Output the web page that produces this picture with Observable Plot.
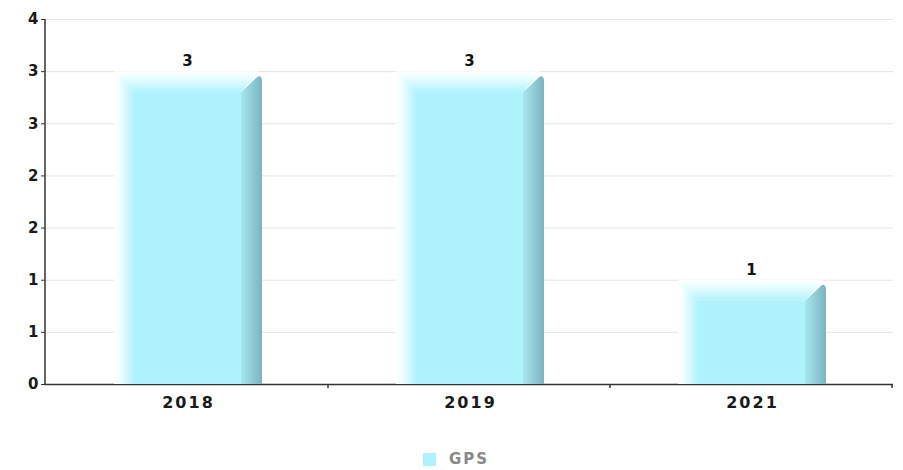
<!DOCTYPE html>
<html>
<head>
<meta charset="utf-8">
<script src="https://cdn.jsdelivr.net/npm/d3@7"></script>
<script src="https://cdn.jsdelivr.net/npm/@observablehq/plot@0.6"></script>
<style>
  html, body { margin: 0; padding: 0; background: #fff; }
  #wrap { position: relative; width: 903px; height: 470px; font-family: "DejaVu Sans", sans-serif; }
  #legend { position: absolute; left: 423px; top: 450px; display: flex; align-items: center; }
  #legend .sw { width: 13px; height: 13px; background: #aef2fb; margin-right: 13px; }
  #legend .lb { font-weight: bold; font-size: 15px; color: #888; letter-spacing: 2px; }
</style>
</head>
<body>
<div id="wrap"></div>
<script>
const years = ["2018", "2019", "2021"];
const values = [3, 3, 1];
const yTicks = [0, 0.5, 1, 1.5, 2, 2.5, 3, 3.5];
const seriesName = "GPS";

const data = years.map((year, i) => ({year, value: values[i]}));

const FRONT = "#aef2fb";

function bevelBars(index, scales, vals, dimensions, context, next) {
  const g = next(index, scales, vals, dimensions, context);
  const doc = context.document;
  const ns = "http://www.w3.org/2000/svg";
  const mk = (tag, attrs) => {
    const el = doc.createElementNS(ns, tag);
    for (const k in attrs) el.setAttribute(k, attrs[k]);
    return el;
  };
  const defs = mk("defs", {});
  const gl = mk("linearGradient", {id: "gL", x1: "0", y1: "0", x2: "1", y2: "0"});
  gl.appendChild(mk("stop", {offset: "0", "stop-color": "#ffffff"}));
  gl.appendChild(mk("stop", {offset: "0.25", "stop-color": "#f2feff"}));
  gl.appendChild(mk("stop", {offset: "1", "stop-color": FRONT}));
  const gt = mk("linearGradient", {id: "gT", x1: "0", y1: "0", x2: "0", y2: "1"});
  gt.appendChild(mk("stop", {offset: "0", "stop-color": "#ffffff"}));
  gt.appendChild(mk("stop", {offset: "0.25", "stop-color": "#effeff"}));
  gt.appendChild(mk("stop", {offset: "1", "stop-color": "#b2f3fc"}));
  const gr = mk("linearGradient", {id: "gR", x1: "0", y1: "0", x2: "1", y2: "0"});
  gr.appendChild(mk("stop", {offset: "0", "stop-color": "#a8e6ef"}));
  gr.appendChild(mk("stop", {offset: "1", "stop-color": "#79b4bf"}));
  defs.appendChild(gl); defs.appendChild(gt); defs.appendChild(gr);
  g.insertBefore(defs, g.firstChild);
  const rects = Array.from(g.querySelectorAll("rect"));
  for (const r of rects) {
    const x = +r.getAttribute("x"), y = +r.getAttribute("y");
    const w = +r.getAttribute("width"), h = +r.getAttribute("height");
    const b = 21;
    const grp = mk("g", {});
    grp.appendChild(mk("rect", {x: x + b, y: y + b, width: w - 2 * b, height: h - b, fill: FRONT}));
    grp.appendChild(mk("path", {d: `M${x},${y}L${x + b},${y + b}L${x + b},${y + h}L${x},${y + h}Z`, fill: "url(#gL)"}));
    grp.appendChild(mk("path", {d: `M${x},${y}L${x + w - 3},${y}L${x + w - b},${y + b}L${x + b},${y + b}Z`, fill: "url(#gT)"}));
    grp.appendChild(mk("path", {d: `M${x + w - b},${y + b}L${x + w - 5},${y + 6}Q${x + w - 1},${y + 3} ${x + w},${y + 9}L${x + w},${y + h}L${x + w - b},${y + h}Z`, fill: "url(#gR)"}));
    r.parentNode.replaceChild(grp, r);
  }
  return g;
}

const plot = Plot.plot({
  width: 903,
  height: 430,
  marginTop: 19,
  marginBottom: 46,
  marginLeft: 45,
  marginRight: 10,
  style: {fontFamily: "DejaVu Sans, sans-serif", background: "#fff"},
  x: {domain: years, padding: 0, label: null},
  y: {domain: [0, 3.5], label: null},
  marks: [
    Plot.gridY(yTicks, {stroke: "#e4e4e4", strokeOpacity: 1}),
    Plot.ruleY([0], {stroke: "#333", strokeWidth: 1.5}),
    Plot.barY(data, {x: "year", y: "value", insetLeft: 68, insetRight: 66, fill: FRONT, render: bevelBars}),
    Plot.axisY(yTicks, {tickFormat: d => String(Math.round(d)), tickSize: 4, tickPadding: 3, fontSize: 15, fontWeight: "bold", fill: "#1a1a1a", stroke: "#333", label: null}),
    Plot.axisX({tickSize: 0, tickPadding: 12, dx: 1, fontSize: 16, fontWeight: "bold", fill: "#1a1a1a", label: null, className: "xax"}),
    Plot.text(data, {x: "year", y: "value", text: d => String(d.value), dy: -10, lineAnchor: "middle", fontSize: 15, fontWeight: "bold", fill: "#111"})
  ]
});

// axis line and band-boundary ticks drawn from the plot's own scales
const xs = plot.scale("x"), ys = plot.scale("y");
const svg = d3.select(plot);
svg.selectAll(".xax text").style("letter-spacing", "2px");
const x0 = xs.range[0];
const yTop = ys.apply(3.5), yBot = ys.apply(0);
svg.append("line").attr("x1", x0).attr("x2", x0).attr("y1", yTop).attr("y2", yBot)
  .attr("stroke", "#333").attr("stroke-width", 1.5);
years.forEach(yv => {
  const xe = xs.apply(yv) + xs.bandwidth;
  svg.append("line").attr("x1", xe).attr("x2", xe).attr("y1", yBot).attr("y2", yBot + 4)
    .attr("stroke", "#333").attr("stroke-width", 1.5);
});

const wrap = document.getElementById("wrap");
wrap.appendChild(plot);
const leg = document.createElement("div");
leg.id = "legend";
leg.innerHTML = `<div class="sw"></div><div class="lb">${seriesName}</div>`;
wrap.appendChild(leg);
</script>
</body>
</html>
